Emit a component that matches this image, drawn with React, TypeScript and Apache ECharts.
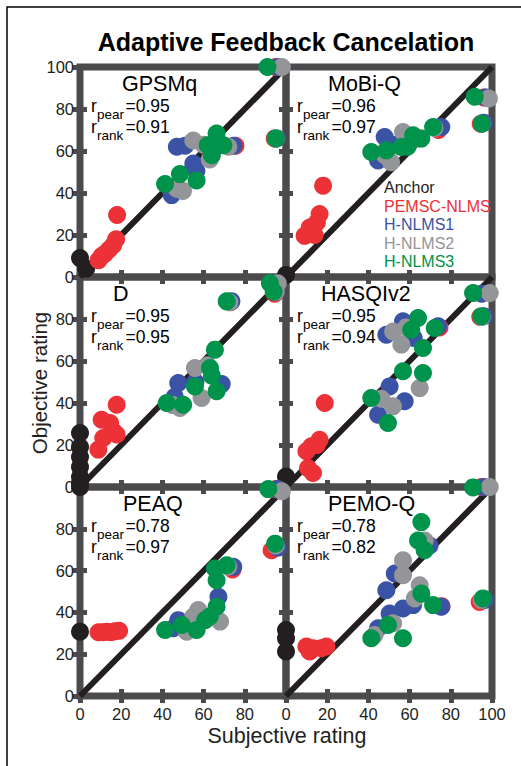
import React, { useEffect, useRef } from 'react';
import * as echarts from 'echarts';

const FONT = '"Liberation Sans", Arial, Helvetica, sans-serif';
const BORDER = '#4b4b4d';
const INK = '#231f20';

const seriesNames = ['Anchor', 'PEMSC-NLMS', 'H-NLMS1', 'H-NLMS2', 'H-NLMS3'];
const seriesColors = ['#231f20', '#ec3237', '#3a53a4', '#939598', '#00934b'];

const panelNames = ['GPSMq', 'MoBi-Q', 'D', 'HASQIv2', 'PEAQ', 'PEMO-Q'];
const rPear = ['0.95', '0.96', '0.95', '0.95', '0.78', '0.78'];
const rRank = ['0.91', '0.97', '0.95', '0.94', '0.97', '0.82'];
const identityLine = [[0, 0], [100, 100]];

// GPSMq
const gpsmqAnchor = [[0, 9], [3, 4]];
const gpsmqPemsc = [[9, 8], [10.5, 10], [12, 11], [14, 13], [16, 15], [17.5, 18], [18, 29.5], [75.5, 62.5], [94.5, 66], [95, 100]];
const gpsmqH1 = [[44.5, 39], [47, 62], [51, 62.5], [56.5, 50.5], [55, 54], [74.5, 62.5], [66, 62], [96, 100], [95.5, 66]];
const gpsmqH2 = [[47, 42], [50, 41], [55, 65], [63, 56], [60, 63], [72, 62], [98, 100], [95, 66]];
const gpsmqH3 = [[41.3, 44.3], [48.5, 49], [56.6, 46], [62, 62.7], [64.7, 62.7], [66.3, 68.3], [69.6, 62.7], [64, 58], [91, 100], [95, 66]];

// MoBi-Q
const mobiqAnchor = [[0, 1]];
const mobiqPemsc = [[9, 19.6], [11.5, 23.6], [13.9, 20], [15, 26], [16.3, 30], [18, 43.5], [74, 70], [94.5, 73], [96, 85.5]];
const mobiqH1 = [[44.7, 55.5], [47.9, 66.7], [52, 63], [60, 66], [75.4, 71.4], [96, 73.5], [97, 85.5]];
const mobiqH2 = [[51, 54.7], [56.8, 69], [48, 58], [64, 66], [72, 71], [98.5, 85], [95, 73]];
const mobiqH3 = [[41.4, 59.5], [48.7, 60.3], [56, 61.9], [61.7, 67.5], [65.7, 65.9], [71.4, 71.4], [59, 62], [91.6, 85.8], [95, 73]];

// D
const dAnchor = [[0, 0], [0, 1.9], [0, 4.8], [0, 9.5], [0, 14.3], [0, 19], [0, 25.7]];
const dPemsc = [[8.9, 17.8], [10.5, 32], [11.3, 23.3], [14.6, 30.5], [16.2, 26.5], [17.8, 25], [17.8, 39.2], [73, 88], [94.5, 92]];
const dH1 = [[47.7, 49.5], [46, 43], [68.8, 49], [56, 50], [73.5, 88.5], [95, 93], [94, 97]];
const dH2 = [[55.8, 56.7], [48.5, 37.6], [59, 42.4], [62, 58], [45, 39], [72.5, 88], [96, 97], [95, 93]];
const dH3 = [[42.1, 40], [50.1, 39.2], [55.8, 47.9], [63.1, 56.7], [65.5, 65.4], [66.3, 45.6], [64, 53], [71.2, 88.4], [92.2, 97], [94, 93]];

// HASQIv2
const hasqiAnchor = [[0, 5]];
const hasqiPemsc = [[9.9, 17], [10.7, 9], [12.3, 19.4], [13.1, 6.7], [16.3, 22.5], [15, 20], [18.8, 40], [74.5, 76], [94.3, 81]];
const hasqiH1 = [[48.7, 72.5], [56.8, 78.9], [50.3, 47.9], [57.6, 40.8], [44.7, 34.4], [73.8, 76.5], [62, 71], [96, 81.3], [95, 92]];
const hasqiH2 = [[56, 67.8], [51.9, 38.4], [64.9, 47.1], [46.3, 42], [58.3, 76], [52, 74], [98.9, 92.4], [95, 81]];
const hasqiH3 = [[41.4, 42.4], [49.5, 30.5], [56.8, 55.1], [66.5, 54.3], [66.5, 66.2], [64.1, 80.5], [60.8, 74.9], [72.2, 75.7], [90.8, 92.4], [94.8, 81.3]];

// PEAQ
const peaqAnchor = [[0, 30.8]];
const peaqPemsc = [[9, 30.5], [11, 30.5], [13, 30.8], [15, 30.5], [17, 31], [19, 31.2], [74, 60.5], [93, 69.7], [95, 99]];
const peaqH1 = [[45.3, 32.4], [47.7, 36.3], [52, 35], [67.2, 47.5], [74.4, 61.8], [96, 71], [96, 99]];
const peaqH2 = [[51.8, 30.8], [55, 38], [57.4, 41.1], [68, 35.6], [72, 62], [98, 98], [95, 72]];
const peaqH3 = [[41.3, 31.6], [49.4, 34], [56.6, 31.6], [60.7, 36.3], [63, 38], [66.3, 42.7], [66.3, 55.4], [65.5, 61], [71.2, 62.5], [91.4, 99], [94.7, 72.9]];

// PEMO-Q
const pemoqAnchor = [[0, 31.6], [0, 27.6], [0, 21.3]];
const pemoqPemsc = [[9.9, 23.7], [11.5, 21.3], [13.1, 22.9], [17.1, 22.9], [19.6, 23.7], [75.5, 43], [94, 45], [95, 100]];
const pemoqH1 = [[52.8, 58.6], [48.7, 50.6], [50.3, 39.5], [56.8, 41.9], [61.7, 43.5], [44.7, 32.4], [75.4, 42.7], [69.7, 72], [96.5, 46], [96, 100]];
const pemoqH2 = [[56.8, 64.9], [56.8, 57.8], [64.9, 53], [62.5, 46.7], [43, 29.2], [52, 34.8], [67.3, 74.4], [98.9, 100], [95, 46]];
const pemoqH3 = [[65.7, 83.2], [64.1, 74.4], [67.3, 69.7], [65.7, 49], [71.4, 43.5], [49.5, 34], [41.4, 27.6], [56.8, 27.6], [95.6, 46.7], [90.8, 99.8]];

const panelData = [
  [gpsmqAnchor, gpsmqPemsc, gpsmqH1, gpsmqH2, gpsmqH3],
  [mobiqAnchor, mobiqPemsc, mobiqH1, mobiqH2, mobiqH3],
  [dAnchor, dPemsc, dH1, dH2, dH3],
  [hasqiAnchor, hasqiPemsc, hasqiH1, hasqiH2, hasqiH3],
  [peaqAnchor, peaqPemsc, peaqH1, peaqH2, peaqH3],
  [pemoqAnchor, pemoqPemsc, pemoqH1, pemoqH2, pemoqH3],
];

// layout (pixels)
const colLeft = [80, 286];
const colWidth = 206;
const rowTop = [67, 277, 487];
const rowHeight = [210, 210, 209];
const titleDx = [42, 42, 33, 35, 43, 42];

function buildOption() {
  const grid: any[] = [];
  const xAxis: any[] = [];
  const yAxis: any[] = [];
  const series: any[] = [];
  const graphic: any[] = [];

  const tick = { show: true, inside: true, length: 7, lineStyle: { color: BORDER, width: 5 } };
  const labelBase = { fontSize: 16.5, color: INK, fontFamily: FONT };

  graphic.push({
    type: 'rect', silent: true, z: 0,
    shape: { x: 7, y: 7, width: 700, height: 900 },
    style: { fill: 'none', stroke: '#000', lineWidth: 1.5 },
  });
  graphic.push({
    type: 'text', silent: true,
    style: { text: 'Adaptive Feedback Cancelation', x: 286, y: 42, fill: '#000', fontSize: 25, fontWeight: 'bold', fontFamily: FONT, textAlign: 'center', textVerticalAlign: 'middle' },
  });
  graphic.push({
    type: 'text', silent: true,
    style: { text: 'Subjective rating', x: 287, y: 736, fill: INK, fontSize: 21.5, fontFamily: FONT, textAlign: 'center', textVerticalAlign: 'middle' },
  });
  graphic.push({
    type: 'text', silent: true, x: 39, y: 383, rotation: Math.PI / 2,
    style: { text: 'Objective rating', x: 0, y: 0, fill: INK, fontSize: 20.5, fontFamily: FONT, textAlign: 'center', textVerticalAlign: 'middle' },
  });

  for (let i = 0; i < 6; i++) {
    const r = Math.floor(i / 2);
    const c = i % 2;
    const L = colLeft[c];
    const T = rowTop[r];
    grid.push({
      left: L, top: T, width: colWidth, height: rowHeight[r],
      show: true, borderWidth: 7, borderColor: BORDER, backgroundColor: 'transparent',
    });
    const base = { type: 'value', gridIndex: i, min: 0, max: 100, interval: 20, splitLine: { show: false }, axisLine: { show: false }, axisTick: tick };
    xAxis.push({
      ...base, position: 'bottom',
      axisLabel: { ...labelBase, show: r === 2, margin: 9, formatter: (v: number) => (c === 0 && v === 100 ? '' : String(v)) },
    });
    xAxis.push({ ...base, position: 'top', axisLabel: { show: false } });
    yAxis.push({
      ...base, position: 'left',
      axisLabel: { ...labelBase, show: c === 0, margin: 6, formatter: (v: number) => (r > 0 && v === 100 ? '' : String(v)) },
    });
    yAxis.push({ ...base, position: 'right', axisLabel: { show: false } });

    series.push({
      type: 'line', xAxisIndex: 2 * i, yAxisIndex: 2 * i, data: identityLine,
      symbol: 'none', silent: true, clip: false, z: 1,
      lineStyle: { color: INK, width: 6 },
    });
    panelData[i].forEach((d, k) => {
      series.push({
        type: 'scatter', name: seriesNames[k], xAxisIndex: 2 * i, yAxisIndex: 2 * i,
        data: d, symbol: 'circle', symbolSize: 18, clip: false, z: 2 + k * 0.01,
        itemStyle: { color: seriesColors[k], opacity: 1 },
      });
    });

    graphic.push({
      type: 'text', silent: true,
      style: { text: panelNames[i], x: L + titleDx[i], y: T + 17, fill: '#000', fontSize: 21.5, fontFamily: FONT, textAlign: 'left', textVerticalAlign: 'middle' },
    });
    const lines = [['pear', rPear[i]], ['rank', rRank[i]]];
    lines.forEach(([sub, val], j) => {
      const yMain = T + 39 + j * 21;
      graphic.push({
        type: 'text', silent: true,
        style: { text: 'r', x: L + 11, y: yMain, fill: '#000', fontSize: 17.5, fontFamily: FONT, textAlign: 'left', textVerticalAlign: 'middle' },
      });
      graphic.push({
        type: 'text', silent: true,
        style: { text: sub, x: L + 17, y: yMain + 8, fill: '#000', fontSize: 13.5, fontFamily: FONT, textAlign: 'left', textVerticalAlign: 'middle' },
      });
      graphic.push({
        type: 'text', silent: true,
        style: { text: '=' + val, x: L + 45.5, y: yMain, fill: '#000', fontSize: 17.5, fontFamily: FONT, textAlign: 'left', textVerticalAlign: 'middle' },
      });
    });
  }

  return {
    animation: false,
    backgroundColor: '#fff',
    grid, xAxis, yAxis, series, graphic,
    legend: {
      orient: 'vertical', left: 374, top: 172, icon: 'none', itemWidth: 0, itemHeight: 21, itemGap: 0,
      selectedMode: false,
      textStyle: { fontSize: 16, fontFamily: FONT, padding: 0 },
      data: seriesNames.map((n, k) => ({ name: n, textStyle: { color: seriesColors[k] } })),
    },
  };
}

export default function App() {
  const ref = useRef<HTMLDivElement>(null);
  useEffect(() => {
    if (!ref.current) return;
    const chart = echarts.init(ref.current, undefined, { renderer: 'svg' });
    chart.setOption(buildOption() as any);
    return () => chart.dispose();
  }, []);
  return (
    <div ref={ref} style={{ position: 'absolute', left: 0, top: 0, width: 521, height: 766, background: '#fff' }} />
  );
}
